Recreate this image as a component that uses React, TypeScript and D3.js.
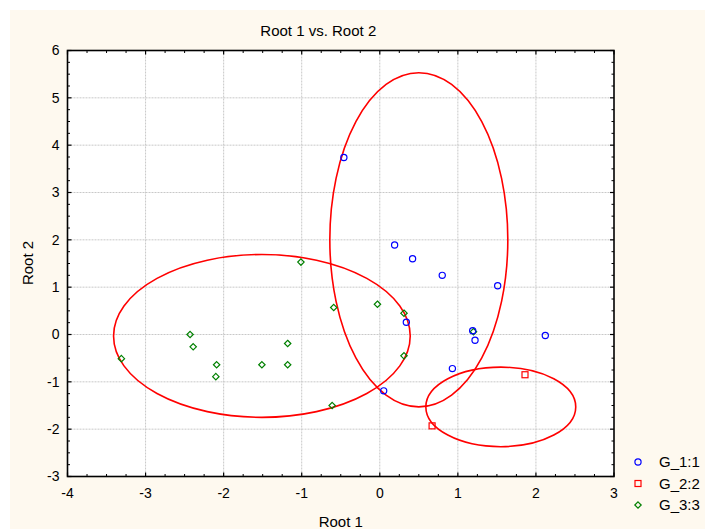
import React from "react";
import * as d3 from "d3";

const title = "Root 1 vs. Root 2";
const xLabel = "Root 1";
const yLabel = "Root 2";
const xDomain = [-4, 3];
const yDomain = [-3, 6];

const groupNames = ["G_1:1", "G_2:2", "G_3:3"];

const g1X = [-0.46, 0.19, 0.42, 0.8, 1.51, 0.34, 1.19, 1.22, 2.12, 0.93, 0.05];
const g1Y = [3.74, 1.89, 1.6, 1.25, 1.03, 0.26, 0.08, -0.12, -0.02, -0.72, -1.19];

const g2X = [1.86, 0.67];
const g2Y = [-0.85, -1.93];

const g3X = [-3.31, -2.43, -2.39, -2.09, -2.1, -1.51, -1.18, -1.18, -1.01, -0.59, -0.61, -0.03, 0.31, 0.31, 1.2];
const g3Y = [-0.51, 0.0, -0.26, -0.64, -0.89, -0.64, -0.19, -0.64, 1.53, 0.57, -1.5, 0.64, 0.45, -0.45, 0.06];

// ellipse centres and half-axes in data units: [G_1, G_2, G_3]
const ellCX = [0.5, 1.55, -1.51];
const ellCY = [2.0, -1.53, -0.03];
const ellRX = [1.14, 0.96, 1.9];
const ellRY = [3.53, 0.84, 1.72];

const FONT = "'Liberation Sans', Arial, sans-serif";

export default function App() {
  const W = 705;
  const H = 529;
  const left = 67.5, right = 614, top = 50.5, bottom = 476.5;
  const x = d3.scaleLinear().domain(xDomain).range([left, right]);
  const y = d3.scaleLinear().domain(yDomain).range([bottom, top]);

  const xMajor = d3.range(xDomain[0], xDomain[1] + 0.001, 1);
  const yMajor = d3.range(yDomain[0], yDomain[1] + 0.001, 1);
  const xMinor = d3.range(xDomain[0], xDomain[1] + 0.001, 0.25).filter((v) => Math.abs(v - Math.round(v)) > 1e-6);
  const yMinor = d3.range(yDomain[0], yDomain[1] + 0.001, 0.25).filter((v) => Math.abs(v - Math.round(v)) > 1e-6);

  const blue = "#0000ff";
  const red = "#ff0000";
  const green = "#008000";

  const circle = (cx: number, cy: number, k: string) => (
    <circle key={k} cx={cx} cy={cy} r={3.1} fill="none" stroke={blue} strokeWidth={1.2} />
  );
  const square = (cx: number, cy: number, k: string) => (
    <rect key={k} x={cx - 3} y={cy - 3} width={6} height={6} fill="none" stroke={red} strokeWidth={1.2} />
  );
  const diamond = (cx: number, cy: number, k: string) => (
    <path key={k} d={`M${cx},${cy - 3.2}L${cx + 3.2},${cy}L${cx},${cy + 3.2}L${cx - 3.2},${cy}Z`} fill="none" stroke={green} strokeWidth={1.2} />
  );

  const fmt = (v: number) => d3.format("d")(v).replace("\u2212", "-");

  return (
    <svg width={W} height={H} style={{ position: "absolute", left: 0, top: 0, fontFamily: FONT }}>
      <rect x={0} y={0} width={W} height={H} fill="#ffffff" />
      <rect x={10} y={10} width={W - 10} height={H - 10} fill="#fef9ef" />
      <rect x={left} y={top} width={right - left} height={bottom - top} fill="#ffffff" />

      {/* grid */}
      {xMajor.slice(1, -1).map((v) => (
        <line key={"gx" + v} x1={x(v)} x2={x(v)} y1={top} y2={bottom} stroke="#c8c8c8" strokeWidth={1} strokeDasharray="2,1" />
      ))}
      {yMajor.slice(1, -1).map((v) => (
        <line key={"gy" + v} x1={left} x2={right} y1={y(v)} y2={y(v)} stroke="#c8c8c8" strokeWidth={1} strokeDasharray="2,1" />
      ))}

      {/* ellipses */}
      {ellCX.map((c, i) => (
        <ellipse
          key={"e" + i}
          cx={x(c)}
          cy={y(ellCY[i])}
          rx={x(c + ellRX[i]) - x(c)}
          ry={y(ellCY[i]) - y(ellCY[i] + ellRY[i])}
          fill="none"
          stroke={red}
          strokeWidth={1.6}
        />
      ))}

      {/* points */}
      {g3X.map((v, i) => diamond(x(v), y(g3Y[i]), "g3" + i))}
      {g2X.map((v, i) => square(x(v), y(g2Y[i]), "g2" + i))}
      {g1X.map((v, i) => circle(x(v), y(g1Y[i]), "g1" + i))}

      {/* ticks */}
      {xMajor.map((v) => (
        <g key={"tx" + v}>
          <line x1={x(v)} x2={x(v)} y1={bottom} y2={bottom - 4} stroke="#000" strokeWidth={1.2} />
          <line x1={x(v)} x2={x(v)} y1={top} y2={top + 4} stroke="#000" strokeWidth={1.2} />
        </g>
      ))}
      {xMinor.map((v) => (
        <g key={"mx" + v}>
          <line x1={x(v)} x2={x(v)} y1={bottom} y2={bottom - 2.5} stroke="#000" strokeWidth={1} />
          <line x1={x(v)} x2={x(v)} y1={top} y2={top + 2.5} stroke="#000" strokeWidth={1} />
        </g>
      ))}
      {yMajor.map((v) => (
        <g key={"ty" + v}>
          <line x1={left} x2={left + 4} y1={y(v)} y2={y(v)} stroke="#000" strokeWidth={1.2} />
          <line x1={right} x2={right - 4} y1={y(v)} y2={y(v)} stroke="#000" strokeWidth={1.2} />
        </g>
      ))}
      {yMinor.map((v) => (
        <g key={"my" + v}>
          <line x1={left} x2={left + 2.5} y1={y(v)} y2={y(v)} stroke="#000" strokeWidth={1} />
          <line x1={right} x2={right - 2.5} y1={y(v)} y2={y(v)} stroke="#000" strokeWidth={1} />
        </g>
      ))}

      <rect x={left} y={top} width={right - left} height={bottom - top} fill="none" stroke="#000" strokeWidth={1.6} />

      {/* tick labels */}
      {xMajor.map((v) => (
        <text key={"lx" + v} x={x(v)} y={497.5} textAnchor="middle" fontSize={14} fill="#000">
          {fmt(v)}
        </text>
      ))}
      {yMajor.map((v) => (
        <text key={"ly" + v} x={left - 8} y={y(v) + 4.8} textAnchor="end" fontSize={14} fill="#000">
          {fmt(v)}
        </text>
      ))}

      {/* titles */}
      <text x={318.3} y={36} textAnchor="middle" fontSize={15} fill="#000">{title}</text>
      <text x={(left + right) / 2} y={526.5} textAnchor="middle" fontSize={15} fill="#000">{xLabel}</text>
      <text transform={`translate(33,263) rotate(-90)`} textAnchor="middle" fontSize={15} fill="#000">{yLabel}</text>

      {/* legend */}
      {groupNames.map((n, i) => {
        const ly = 462 + i * 21.5;
        const mk = i === 0 ? circle(638, ly, "lm" + i) : i === 1 ? square(638, ly, "lm" + i) : diamond(638, ly, "lm" + i);
        return (
          <g key={"leg" + i}>
            {mk}
            <text x={659} y={ly + 5.4} fontSize={15} fill="#000">{n}</text>
          </g>
        );
      })}
    </svg>
  );
}
